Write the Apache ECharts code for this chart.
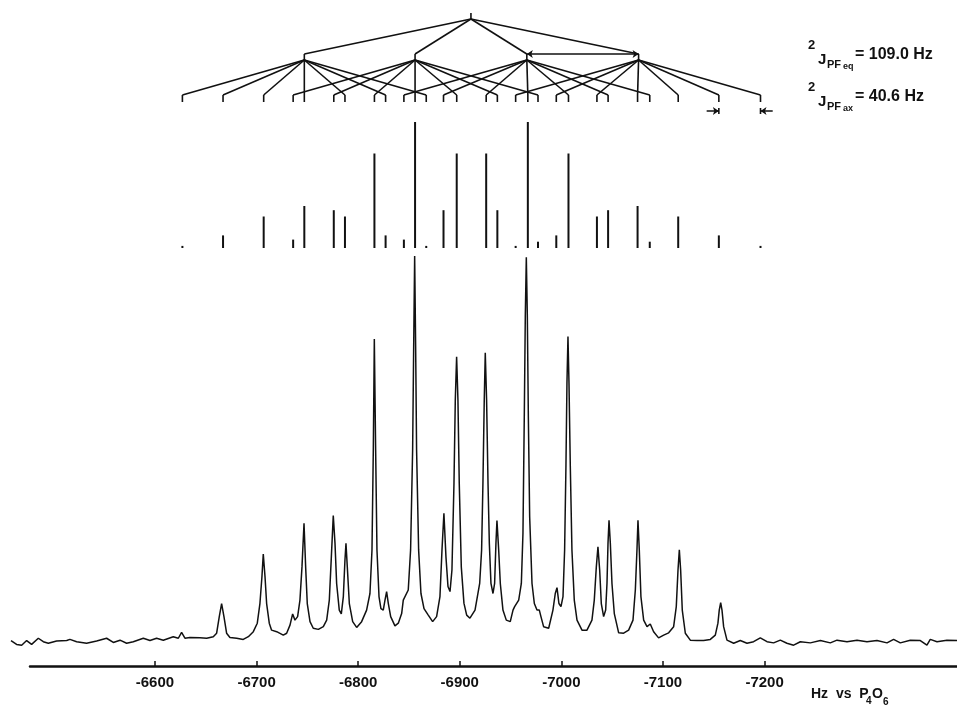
<!DOCTYPE html>
<html>
<head>
<meta charset="utf-8">
<title>19F NMR P4O6 spectrum</title>
<script src="https://cdn.jsdelivr.net/npm/echarts@6/dist/echarts.min.js"></script>
<style>
  html, body { margin: 0; padding: 0; background: #fff; }
  #box1 { width: 957px; height: 708px; }
</style>
</head>
<body>
<div id="box1"></div>
<script>
// axis labels (Hz vs P4O6)
var tickValues = [-6600, -6700, -6800, -6900, -7000, -7100, -7200];

// splitting tree: centre, 2J(PFeq) quartet lines, 2J(PFax) septets
var rootHz = -6911;
var eqNodes = [-6747, -6856, -6966, -7076];
var axLeaves = [
  [-6627, -6667, -6707, -6747, -6787, -6827, -6867],
  [-6736, -6776, -6816, -6856, -6897, -6937, -6977],
  [-6845, -6884, -6926, -6967, -7007, -7046, -7087],
  [-6955, -6995, -7035, -7075, -7115, -7155, -7196]
];

// stick spectrum [Hz, relative intensity]
var sticks = [
  [-6627, 1], [-6667, 6], [-6707, 15], [-6736, 4], [-6747, 20], [-6776, 18], [-6787, 15],
  [-6816, 45], [-6827, 6], [-6845, 4], [-6856, 60], [-6867, 1], [-6884, 18], [-6897, 45],
  [-6926, 45], [-6937, 18], [-6955, 1], [-6967, 60], [-6977, 3], [-6995, 6], [-7007, 45],
  [-7035, 15], [-7046, 18], [-7075, 20], [-7087, 3], [-7115, 15], [-7155, 6], [-7196, 1]
];

// observed trace [Hz, intensity]
var trace = [
  [-6458.3,0.3],[-6463.8,-0.7],[-6468.8,-0.9],[-6473.7,0.3],[-6478.6,-0.7],[-6485.2,0.9],[-6490.1,0],
  [-6495.0,-0.4],[-6503.2,0.2],[-6513.1,0.3],[-6516.3,0.6],[-6522.9,0],[-6532.7,-0.4],[-6542.6,0.2],
  [-6552.4,0.9],[-6559.0,-0.2],[-6565.6,0.4],[-6572.1,-0.4],[-6578.7,0],[-6588.5,0.9],[-6595.1,0.3],
  [-6601.6,0.9],[-6608.2,0.4],[-6618.0,1.3],[-6623.0,0.9],[-6626.2,2.4],[-6629.5,0.9],[-6634.4,1.1],
  [-6644.3,1.0],[-6650.9,0.9],[-6657.4,1.3],[-6660.7,2.2],[-6663.3,6.5],[-6665.6,9.9],[-6667.9,6.5],
  [-6670.5,2.2],[-6673.8,1.1],[-6680.4,0.9],[-6686.9,0.6],[-6691.9,1.3],[-6696.8,2.6],[-6700.7,4.8],
  [-6703.3,9.9],[-6705.3,16.9],[-6706.6,22.7],[-6708.3,16.9],[-6709.9,9.9],[-6712.5,4.8],[-6714.8,3.0],
  [-6719.8,2.6],[-6726.3,1.7],[-6729.6,2.2],[-6732.9,4.3],[-6735.5,7.2],[-6737.8,5.6],[-6740.4,6.5],
  [-6742.7,10.8],[-6744.7,19.4],[-6746.7,30.7],[-6748.3,19.4],[-6749.9,9.9],[-6752.6,5.2],[-6755.8,3.5],
  [-6760.8,3.2],[-6765.7,3.9],[-6769.0,5.6],[-6771.6,10.8],[-6773.6,22.0],[-6775.5,32.7],[-6777.2,25.5],
  [-6778.8,15.1],[-6781.4,8.2],[-6783.4,7.2],[-6785.4,11.7],[-6787.0,21.2],[-6788.0,25.5],[-6789.3,19.4],
  [-6791.3,9.9],[-6794.6,5.2],[-6798.5,3.7],[-6803.4,5.2],[-6808.3,8.2],[-6811.6,12.5],[-6813.6,23.8],
  [-6814.9,49.7],[-6815.9,78.5],[-6817.2,49.7],[-6818.5,23.8],[-6820.5,11.7],[-6822.4,8.6],[-6824.7,8.2],
  [-6826.4,10.8],[-6828.0,13.0],[-6829.7,9.9],[-6832.0,6.5],[-6836.2,4.1],[-6839.5,4.8],[-6842.8,7.3],
  [-6844.4,10.8],[-6846.1,11.0],[-6849.3,13.4],[-6851.6,23.8],[-6853.6,49.7],[-6854.6,75.6],[-6855.6,100],
  [-6856.6,75.6],[-6857.5,49.7],[-6859.5,23.8],[-6861.8,12.5],[-6864.8,8.6],[-6869.0,6.9],[-6873.3,5.2],
  [-6877.2,6.5],[-6880.5,11.7],[-6882.5,23.8],[-6884.4,33.3],[-6886.4,22.0],[-6888.4,14.3],[-6890.4,13.0],
  [-6892.3,18.6],[-6894.3,41.1],[-6895.6,62.7],[-6896.9,73.9],[-6898.2,62.7],[-6899.5,41.1],[-6901.5,19.4],
  [-6904.1,10.0],[-6906.8,6.9],[-6910.0,6.1],[-6915.0,8.2],
  [-6916.9,8.2],[-6919.6,15.1],[-6921.5,23.8],[-6922.8,41.1],[-6924.1,62.7],[-6925.1,74.9],[-6926.4,62.7],
  [-6927.8,41.1],[-6929.1,25.5],[-6930.7,15.1],[-6932.7,12.5],[-6934.3,15.1],[-6935.6,25.5],[-6936.6,31.4],
  [-6938.3,23.8],[-6939.9,15.1],[-6942.5,8.2],[-6945.8,5.6],[-6949.7,5.2],[-6952.4,8.2],[-6954.0,9.1],
  [-6958.0,10.8],[-6960.6,15.1],[-6962.2,28.1],[-6963.5,58.3],[-6964.5,84.3],[-6965.5,99.7],[-6966.5,84.3],
  [-6967.5,58.3],[-6968.8,32.4],[-6971.1,15.1],[-6973.4,9.9],[-6976.0,8.2],[-6978.3,8.2],[-6979.9,6.5],
  [-6982.5,3.9],[-6987.5,3.5],[-6991.7,8.2],[-6994.0,12.5],[-6995.7,14.0],[-6997.6,9.9],[-6999.6,9.1],
  [-7001.6,11.7],[-7003.2,23.8],[-7004.5,45.4],[-7005.5,67.0],[-7006.5,79.1],[-7007.5,67.0],[-7008.8,45.4],
  [-7010.4,23.8],[-7012.7,10.8],[-7015.4,5.6],[-7020.3,3.0],[-7025.2,3.0],[-7030.1,5.6],[-7032.4,10.8],
  [-7034.4,19.4],[-7036.0,24.6],[-7037.7,18.6],[-7039.3,9.9],[-7041.6,6.5],[-7043.6,8.2],[-7044.9,15.1],
  [-7045.9,25.5],[-7046.9,31.5],[-7048.2,25.5],[-7049.8,15.1],[-7052.1,7.3],[-7056.4,2.3],[-7061.3,2.2],
  [-7066.2,3.0],[-7070.5,5.6],[-7072.8,13.4],[-7074.4,23.8],[-7075.4,31.5],[-7076.7,23.8],[-7078.3,11.7],
  [-7081.0,5.6],[-7084.3,3.9],[-7087.5,4.6],[-7090.8,2.6],[-7095.7,1.0],[-7100.7,1.7],[-7105.6,2.3],
  [-7110.5,3.9],[-7113.1,9.1],[-7114.8,18.6],[-7116.1,23.8],[-7117.4,18.6],[-7119.0,8.2],[-7122.0,2.2],
  [-7126.9,0.4],[-7133.5,0.3],[-7140.0,0.3],[-7146.6,0.6],[-7151.5,1.7],[-7154.1,4.8],[-7155.4,8.2],
  [-7156.8,10.1],[-7158.1,8.2],[-7159.7,3.9],[-7163.0,0.4],[-7169.6,-0.4],[-7176.1,0.3],[-7182.7,-0.4],
  [-7189.2,0],[-7195.8,1.0],[-7202.4,0],[-7208.9,-0.3],[-7215.5,0.4],[-7222.0,-0.4],[-7228.6,-0.9],
  [-7235.2,0],[-7245.0,-0.3],[-7254.9,0.3],[-7264.7,-0.3],[-7271.3,0.4],[-7281.1,0],[-7291.0,0.4],
  [-7300.8,0],[-7310.6,0.3],[-7320.5,-0.3],[-7327.0,0.6],[-7333.6,-0.3],[-7343.4,0.4],[-7353.3,0.3],
  [-7359.8,-0.9],[-7363.1,0.6],[-7369.7,0],[-7379.5,0.4],[-7389.4,0.3]
];

// J(PFax) marker arrows at the last two lines: [tail Hz, head Hz]
var axArrows = [[-7143, -7155], [-7208, -7196]];

var INK = '#111';
var HZ_LEFT = -6458.3, HZ_RIGHT = -7389.4;   // plot area 11..957 px
var AXIS_LEFT = -6477;                       // axis line starts at 30 px

// tree rows (top-down, in px inside the tree grid)
var R_TOP = 0, R_ROOT = 6, R_EQ = 41, R_EQB = 47, R_LEAF = 82, R_LEAFB = 89, R_ARROW = 98;

var treeSegs = [[rootHz, R_TOP, rootHz, R_ROOT]];
eqNodes.forEach(function (n, i) {
  treeSegs.push([rootHz, R_ROOT, n, R_EQ]);
  treeSegs.push([n, R_EQ, n, R_EQB]);
  axLeaves[i].forEach(function (c) {
    treeSegs.push([n, R_EQB, c, R_LEAF]);
    treeSegs.push([c, R_LEAF, c, R_LEAFB]);
  });
});
axArrows.forEach(function (a) {
  treeSegs.push([a[1], R_ARROW - 3, a[1], R_ARROW + 3]);
});

function hiddenX(i) {
  return { type: 'value', gridIndex: i, min: HZ_RIGHT, max: HZ_LEFT, inverse: true, show: false };
}

var myChart1 = echarts.init(document.getElementById('box1'));
var option = {
  backgroundColor: '#fff',
  animation: false,
  grid: [
    { left: 11, right: 0, top: 13, height: 102, outerBoundsMode: 'none' },   // tree
    { left: 11, right: 0, top: 122, height: 126, outerBoundsMode: 'none' },  // sticks
    { left: 11, right: 0, top: 256, height: 405, outerBoundsMode: 'none' },  // spectrum
    { left: 30, right: 0, top: 600, height: 66, outerBoundsMode: 'none' }    // Hz axis
  ],
  xAxis: [
    hiddenX(0), hiddenX(1), hiddenX(2),
    {
      type: 'value', gridIndex: 3, min: HZ_RIGHT, max: AXIS_LEFT, inverse: true,
      axisLine: { lineStyle: { color: INK, width: 2.5 } },
      axisTick: { inside: true, length: 5, customValues: tickValues, lineStyle: { color: INK, width: 1.5 } },
      axisLabel: {
        customValues: tickValues, margin: 9, color: INK,
        fontFamily: 'Liberation Sans', fontWeight: 'bold', fontSize: 15,
        formatter: function (v) { return String(v); }
      },
      splitLine: { show: false }
    }
  ],
  yAxis: [
    { type: 'value', gridIndex: 0, min: 0, max: 102, inverse: true, show: false },
    { type: 'value', gridIndex: 1, min: 0, max: 60, show: false },
    { type: 'value', gridIndex: 2, min: -5, max: 100, show: false },
    { type: 'value', gridIndex: 3, min: 0, max: 1, show: false }
  ],
  graphic: [
    { type: 'text', x: 808, y: 39, style: { text: '2', font: 'bold 13px Liberation Sans', fill: INK } },
    { type: 'text', x: 818, y: 52, style: { text: 'J', font: 'bold 15px Liberation Sans', fill: INK } },
    { type: 'text', x: 827, y: 59, style: { text: 'PF', font: 'bold 11px Liberation Sans', fill: INK } },
    { type: 'text', x: 843, y: 62, style: { text: 'eq', font: 'bold 9px Liberation Sans', fill: INK } },
    { type: 'text', x: 855, y: 47, style: { text: '= 109.0 Hz', font: 'bold 16px Liberation Sans', fill: INK } },
    { type: 'text', x: 808, y: 81, style: { text: '2', font: 'bold 13px Liberation Sans', fill: INK } },
    { type: 'text', x: 818, y: 94, style: { text: 'J', font: 'bold 15px Liberation Sans', fill: INK } },
    { type: 'text', x: 827, y: 101, style: { text: 'PF', font: 'bold 11px Liberation Sans', fill: INK } },
    { type: 'text', x: 843, y: 104, style: { text: 'ax', font: 'bold 9px Liberation Sans', fill: INK } },
    { type: 'text', x: 855, y: 89, style: { text: '= 40.6 Hz', font: 'bold 16px Liberation Sans', fill: INK } },
    { type: 'text', x: 811, y: 687, style: { text: 'Hz  vs  P', font: 'bold 14px Liberation Sans', fill: INK } },
    { type: 'text', x: 866, y: 696, style: { text: '4', font: 'bold 10px Liberation Sans', fill: INK } },
    { type: 'text', x: 872, y: 687, style: { text: 'O', font: 'bold 14px Liberation Sans', fill: INK } },
    { type: 'text', x: 883, y: 697, style: { text: '6', font: 'bold 10px Liberation Sans', fill: INK } }
  ],
  series: [
    {
      name: 'tree', type: 'custom', xAxisIndex: 0, yAxisIndex: 0,
      encode: { x: [0, 2], y: [1, 3] },
      data: treeSegs,
      renderItem: function (params, api) {
        var p1 = api.coord([api.value(0), api.value(1)]);
        var p2 = api.coord([api.value(2), api.value(3)]);
        return {
          type: 'line',
          shape: { x1: p1[0], y1: p1[1], x2: p2[0], y2: p2[1] },
          style: { stroke: INK, lineWidth: 1.6 }
        };
      }
    },
    {
      name: 'J arrows', type: 'lines', coordinateSystem: 'cartesian2d', xAxisIndex: 0, yAxisIndex: 0,
      symbolSize: 6,
      lineStyle: { color: INK, width: 1.5, opacity: 1, curveness: 0 },
      data: [
        { coords: [[eqNodes[2], R_EQ], [eqNodes[3], R_EQ]], symbol: ['arrow', 'arrow'] }
      ].concat(axArrows.map(function (a) {
        return { coords: [[a[0], R_ARROW], [a[1], R_ARROW]], symbol: ['none', 'arrow'] };
      }))
    },
    {
      name: 'sticks', type: 'custom', xAxisIndex: 1, yAxisIndex: 1,
      data: sticks,
      renderItem: function (params, api) {
        var base = api.coord([api.value(0), 0]);
        var top = api.coord([api.value(0), api.value(1)]);
        return {
          type: 'rect',
          shape: { x: base[0] - 1, y: top[1], width: 2, height: base[1] - top[1] },
          style: { fill: INK }
        };
      }
    },
    {
      name: 'spectrum', type: 'line', xAxisIndex: 2, yAxisIndex: 2,
      data: trace, showSymbol: false, symbol: 'none',
      lineStyle: { color: INK, width: 1.5 }
    }
  ]
};
myChart1.setOption(option);
</script>
</body>
</html>
